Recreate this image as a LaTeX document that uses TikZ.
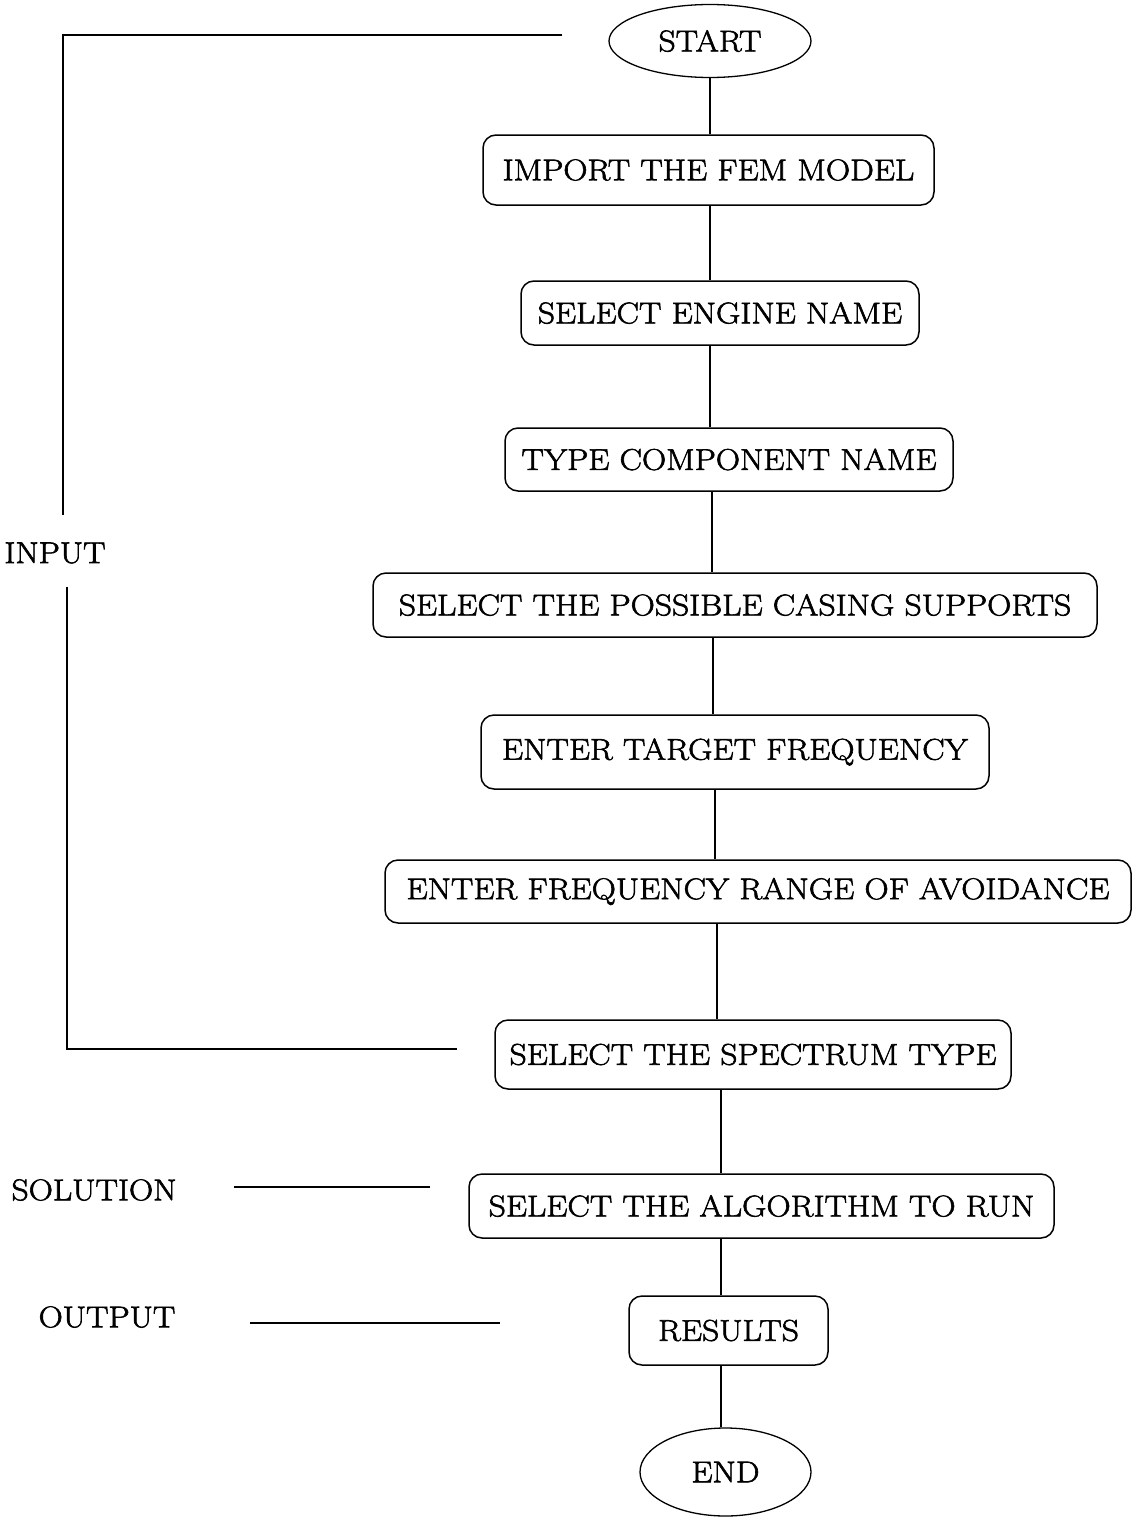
\documentclass[tikz,border=0pt]{standalone}
\usepackage{fontspec}
\setmainfont{Latin Modern Roman}[FakeStretch=1.12, FakeBold=2]
\usetikzlibrary{shapes.geometric}
\begin{document}
\begin{tikzpicture}[x=1pt,y=-1pt,
  every node/.style={font=\fontsize{30}{36}\selectfont, inner sep=0pt},
  stepbox/.style={draw, line width=1.5pt, rounded corners=13pt, align=center},
  terminal/.style={draw, line width=1.3pt, ellipse},
  link/.style={line width=1.5pt},
  bracket/.style={line width=1.5pt}]
\useasboundingbox (0,0) rectangle (1133,1518);

% flow steps
\node[terminal, minimum width=202pt, minimum height=73pt] (start) at (710,41) {START};
\node[stepbox, minimum width=451pt, minimum height=70pt] (import) at (708.5,170) {IMPORT THE FEM MODEL};
\node[stepbox, minimum width=398pt, minimum height=64pt] (engine) at (720,313) {SELECT ENGINE NAME};
\node[stepbox, minimum width=448pt, minimum height=63pt] (component) at (729,459.5) {TYPE COMPONENT NAME};
\node[stepbox, minimum width=724pt, minimum height=64pt] (casing) at (735,605) {SELECT THE POSSIBLE CASING SUPPORTS};
\node[stepbox, minimum width=508pt, minimum height=74pt] (target) at (735,752) {ENTER TARGET FREQUENCY};
\node[stepbox, minimum width=746pt, minimum height=63pt] (range) at (758,891.5) {ENTER FREQUENCY RANGE OF AVOIDANCE};
\node[stepbox, minimum width=516pt, minimum height=69pt] (spectrum) at (753,1054.5) {SELECT THE SPECTRUM TYPE};
\node[stepbox, minimum width=585pt, minimum height=64pt] (algorithm) at (761.5,1206) {SELECT THE ALGORITHM TO RUN};
\node[stepbox, minimum width=199pt, minimum height=69pt] (results) at (728.5,1330.5) {RESULTS};
\node[terminal, minimum width=171pt, minimum height=88pt] (end) at (725.5,1472) {END};

% vertical connectors
\draw[link] (start.south) -- (import.north -| start.south);
\draw[link] (import.south -| 710,0) -- (engine.north -| 710,0);
\draw[link] (engine.south -| 710,0) -- (component.north -| 710,0);
\draw[link] (component.south -| 712,0) -- (casing.north -| 712,0);
\draw[link] (casing.south -| 713,0) -- (target.north -| 713,0);
\draw[link] (target.south -| 715,0) -- (range.north -| 715,0);
\draw[link] (range.south -| 717,0) -- (spectrum.north -| 717,0);
\draw[link] (spectrum.south -| 721,0) -- (algorithm.north -| 721,0);
\draw[link] (algorithm.south -| 721,0) -- (results.north -| 721,0);
\draw[link] (results.south -| 721,0) -- (end.north -| 721,0);

% phase labels
\node (input) at (55,553) {INPUT};
\node (solution) at (94,1190) {SOLUTION};
\node (output) at (107,1317) {OUTPUT};

% input bracket
\coordinate (inTop) at (562,35);
\coordinate (inBottom) at (457,1049);
\draw[bracket] (inTop) -- (63,35) -- (63,515);
\draw[bracket] (67,587) -- (67,1049) -- (inBottom);

% solution and output markers
\coordinate (solA) at (234,1187);
\coordinate (solB) at (430,1187);
\draw[bracket] (solA) -- (solB);
\coordinate (outA) at (250,1323);
\coordinate (outB) at (500,1323);
\draw[bracket] (outA) -- (outB);
\end{tikzpicture}
\end{document}
